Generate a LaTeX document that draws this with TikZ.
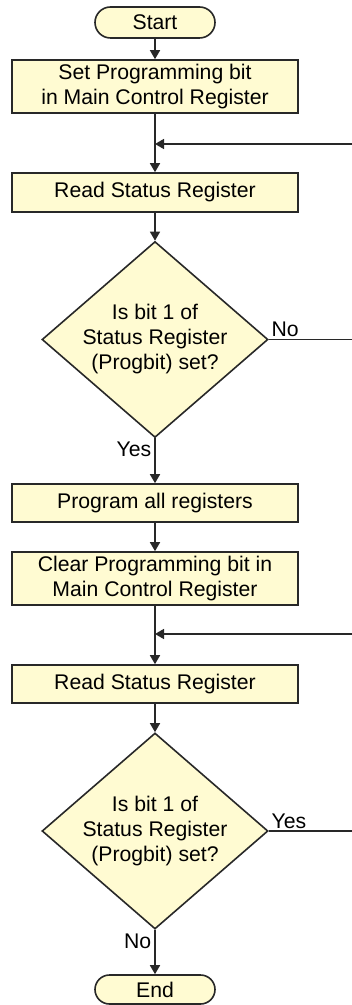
\documentclass[tikz,border=0pt]{standalone}
\usepackage{fontspec}
\setmainfont{Liberation Sans}
\usetikzlibrary{shapes,shapes.geometric,arrows.meta,calc}
\definecolor{boxfill}{RGB}{255,251,210}
\definecolor{boxline}{RGB}{40,40,40}

\begin{document}
\begin{tikzpicture}[x=0.5pt, y=-0.5pt,
        font=\fontsize{10.6}{12.5}\selectfont,
        flowbox/.style={draw=boxline, fill=boxfill, line width=0.8pt, align=center,
            minimum width=143pt, inner sep=0pt},
        terminal/.style={draw=boxline, fill=boxfill, line width=0.8pt, rounded rectangle,
            minimum width=60pt, inner sep=0pt},
        decision/.style={draw=boxline, fill=boxfill, line width=0.8pt, diamond,
            minimum width=113pt, minimum height=98pt, inner sep=0pt},
        flow/.style={line width=0.8pt, draw=boxline, -{Triangle[length=4.5pt,width=5pt]}},
        plain/.style={line width=0.8pt, draw=boxline}]
        \useasboundingbox (0,0) rectangle (352,1005);
        % main column
        \node[terminal, minimum height=15.5pt] (start) at (155,22.5) {Start};
        \node[flowbox, minimum height=26.5pt] (setbit) at (155,86.5) {Set Programming bit\\in Main Control Register};
        \node[flowbox, minimum height=19.5pt] (read1) at (155,192.5) {Read Status Register};
        \node[decision, label=center:{\begin{tabular}{@{}c@{}}Is bit 1 of\\Status Register\\(Progbit) set?\end{tabular}}] (check1) at (155,339.5) {};
        \node[flowbox, minimum height=19pt] (prog) at (155,503) {Program all registers};
        \node[flowbox, minimum height=26.5pt] (clrbit) at (155,578.5) {Clear Programming bit in\\Main Control Register};
        \node[flowbox, minimum height=19pt] (read2) at (155,684) {Read Status Register};
        \node[decision, label=center:{\begin{tabular}{@{}c@{}}Is bit 1 of\\Status Register\\(Progbit) set?\end{tabular}}] (check2) at (155,831) {};
        \node[terminal, minimum height=14.5pt] (end) at (155,989.5) {End};
        % loop joins
        \coordinate (join1) at (155,144);
        \coordinate (join2) at (155,634);
        \coordinate (back1) at (352,144);
        \coordinate (back2) at (352,634);
        \coordinate (out1) at (352,339.5);
        \coordinate (out2) at (352,831);
        % connectors
        \draw[flow] (start) -- (setbit);
        \draw[plain] (setbit) -- (join1);
        \draw[flow] (join1) -- (read1);
        \draw[flow] (back1) -- (join1);
        \draw[flow] (read1) -- (check1);
        \draw[flow] (check1) -- (prog) node[pos=0, anchor=north east, inner sep=1.5pt] {Yes};
        \draw[plain] (check1.east) -- (out1) node[pos=0, anchor=south west, inner sep=1pt] {No};
        \draw[flow] (prog) -- (clrbit);
        \draw[plain] (clrbit) -- (join2);
        \draw[flow] (join2) -- (read2);
        \draw[flow] (back2) -- (join2);
        \draw[flow] (read2) -- (check2);
        \draw[plain] (check2.east) -- (out2) node[pos=0, anchor=south west, inner sep=1pt] {Yes};
        \draw[flow] (check2) -- (end) node[pos=0, anchor=north east, inner sep=1.5pt] {No};
    \end{tikzpicture}
\end{document}
